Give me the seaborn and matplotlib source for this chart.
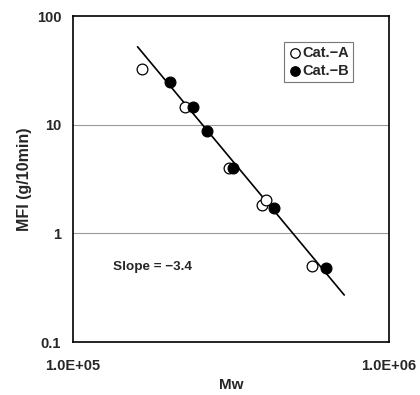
import matplotlib
matplotlib.use("Agg")
import matplotlib.pyplot as plt
import matplotlib.ticker as mticker
import pandas as pd
import seaborn as sns

# Cat.-A (open circles)
mw_a = [1.65e5, 2.26e5, 3.12e5, 3.96e5, 4.08e5, 5.71e5]
mfi_a = [32.5, 14.5, 3.97, 1.82, 2.03, 0.505]
# Cat.-B (filled circles)
mw_b = [2.03e5, 2.39e5, 2.66e5, 3.21e5, 4.33e5, 6.31e5]
mfi_b = [24.9, 14.7, 8.8, 3.97, 1.71, 0.483]
# fitted line, slope = -3.4
fit_mw = [1.60e5, 7.22e5]
fit_mfi = [52.3, 0.271]

df_a = pd.DataFrame({"Mw": mw_a, "MFI": mfi_a})
df_b = pd.DataFrame({"Mw": mw_b, "MFI": mfi_b})
df_fit = pd.DataFrame({"Mw": fit_mw, "MFI": fit_mfi})

sns.set_style("white")
plt.rcParams["font.family"] = ["Liberation Sans", "DejaVu Sans"]
plt.rcParams["font.weight"] = "bold"

fig = plt.figure(figsize=(4.2, 3.95), dpi=100)
ax = fig.add_axes([0.174, 0.134, 0.752, 0.825])

ax.set_xscale("log")
ax.set_yscale("log")
ax.set_xlim(1e5, 1e6)
ax.set_ylim(0.1, 100)

for yv in [1, 10]:
    ax.axhline(yv, color="#9a9a9a", lw=0.8, zorder=0)

sns.lineplot(data=df_fit, x="Mw", y="MFI", color="black", lw=1.2, ax=ax, zorder=2)
sns.scatterplot(data=df_a, x="Mw", y="MFI", marker="o", s=60, facecolor="white",
                edgecolor="black", linewidth=0.9, ax=ax, zorder=3, label="Cat.\u2212A")
sns.scatterplot(data=df_b, x="Mw", y="MFI", marker="o", s=60, color="black",
                edgecolor="black", linewidth=0.9, ax=ax, zorder=4, label="Cat.\u2212B")

leg = ax.legend(loc="upper right", bbox_to_anchor=(0.886, 0.92), fontsize=10.5,
                frameon=True, fancybox=False, handletextpad=0.0, borderpad=0.25,
                handlelength=1.0, labelspacing=0.3, borderaxespad=0.0,
                markerscale=0.88)
leg.get_frame().set_edgecolor("#555555")
leg.get_frame().set_linewidth(0.8)

ax.text(1.339e5, 0.49, "Slope = \u22123.4", fontsize=9.7, fontweight="bold",
        va="center", ha="left")

ax.set_xticks([1e5, 1e6])
ax.xaxis.set_major_formatter(mticker.FixedFormatter(["1.0E+05", "1.0E+06"]))
ax.xaxis.set_minor_locator(mticker.NullLocator())
ax.set_yticks([0.1, 1, 10, 100])
ax.yaxis.set_major_formatter(mticker.FixedFormatter(["0.1", "1", "10", "100"]))
ax.yaxis.set_minor_locator(mticker.NullLocator())
ax.tick_params(axis="y", direction="in", length=5, width=1, labelsize=10.5, pad=8.6)
ax.tick_params(axis="x", direction="in", length=0, labelsize=10.5, pad=12)

for sp in ax.spines.values():
    sp.set_color("black")
    sp.set_linewidth(1.2)

ax.set_xlabel("Mw", fontsize=11, fontweight="bold", labelpad=4)
ax.set_ylabel("MFI (g/10min)", fontsize=11.5, fontweight="bold", labelpad=3)

fig.savefig("out.png", dpi=100)
